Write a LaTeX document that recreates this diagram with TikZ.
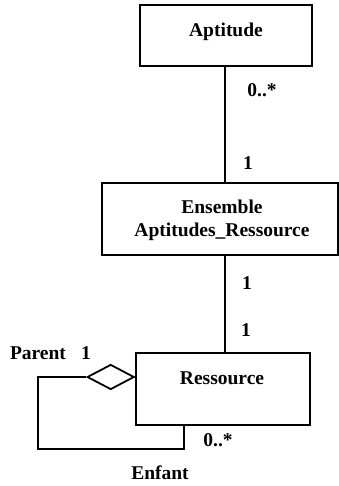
\documentclass[tikz,border=0pt]{standalone}
\usepackage{fontspec}
\setmainfont{Liberation Serif}
\usetikzlibrary{shapes.geometric}
\begin{document}
\begin{tikzpicture}[x=1pt,y=-1pt,
  every node/.style={font=\fontsize{19.5}{23}\selectfont\bfseries, inner sep=0pt},
  cls/.style={draw, line width=1.8pt, rectangle},
  conn/.style={line width=1.8pt}]
\useasboundingbox (0,0) rectangle (339,486);
% boxes
\node[cls, minimum width=172pt, minimum height=61pt] (apt) at (226,35.5) {};
\node (aptl) at (226,32) {Aptitude};
\node[cls, minimum width=236pt, minimum height=72pt] (ens) at (220,219) {};
\node[align=center] (ensl) at (222,220) {Ensemble\\Aptitudes\_Ressource};
\node[cls, minimum width=174pt, minimum height=72pt] (res) at (223,389) {};
\node (resl) at (222,378) {Ressource};
% connectors
\draw[conn] (apt.south -| 225,0) -- (ens.north -| 225,0);
\draw[conn] (ens.south -| 225,0) -- (res.north -| 225,0);
\node[diamond, draw, line width=1.8pt, minimum width=47pt, minimum height=25pt, anchor=east] (dia) at ([yshift=12pt]res.west) {};
\coordinate (c1) at (38,449);
\draw[conn] (dia.west) -| (c1) -| ([xshift=-39pt]res.south);
% labels
\node (m1) at (262,90) {0..*};
\node (m2) at (248,163) {1};
\node (m3) at (247,283) {1};
\node (m4) at (246,330) {1};
\node (pl) at (38,353) {Parent};
\node (m5) at (86,353) {1};
\node (m6) at (218,440) {0..*};
\node (el) at (160,473) {Enfant};
\end{tikzpicture}
\end{document}
